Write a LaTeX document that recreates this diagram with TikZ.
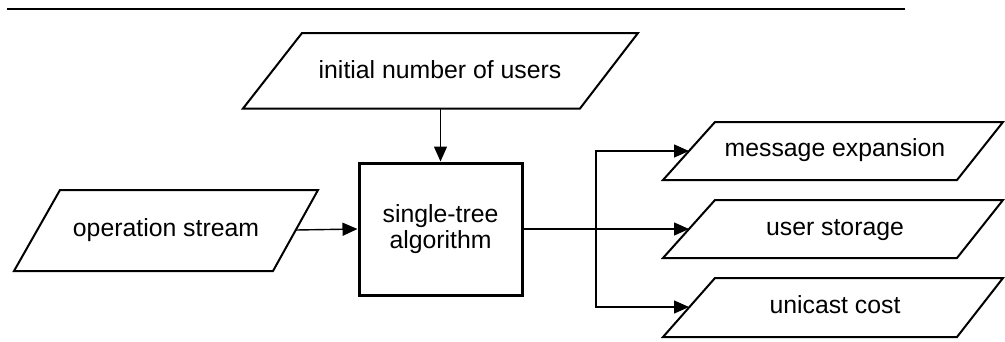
\documentclass[tikz,border=0pt]{standalone}
\usepackage{fontspec}
\setmainfont{Liberation Sans}
\usetikzlibrary{arrows.meta}
\begin{document}
\begin{tikzpicture}[x=1pt,y=-1pt,
  lbl/.style={font=\fontsize{24.8}{26.5}\selectfont, align=center, inner sep=0pt, text height=18pt, text depth=5pt},
  para/.style={draw, line width=2pt, line join=miter},
  procbox/.style={draw, line width=3pt, minimum width=163pt, minimum height=132pt, inner sep=0pt, align=center, font=\fontsize{24.8}{26.5}\selectfont},
  conn/.style={line width=1.4pt, -{Triangle[length=15pt,width=13pt]}},
  plain/.style={line width=1.4pt}
]
\useasboundingbox (0,0) rectangle (1005,341);
% top rule
\draw[line width=2.5pt] (7,9) -- (905,9);

% input: initial number of users
\draw[para] (302,33) -- (638,33) -- (580,108.5) -- (243,108.5) -- cycle;
\node[lbl] (init) at (440,71.5) {initial number of users};
\coordinate (initB) at (440.5,108.5);

% input: operation stream
\draw[para] (60,190) -- (318,190) -- (273,271) -- (14,271) -- cycle;
\node[lbl] (op) at (166,230) {operation stream};
\coordinate (opR) at (296,230);

% process
\node[procbox] (alg) at (440.5,229) {single-tree\\algorithm};

% outputs
\draw[para] (715,122) -- (1003,122) -- (957,180) -- (663,180) -- cycle;
\node[lbl] (msg) at (835,150) {message expansion};
\coordinate (msgL) at (689,151);

\draw[para] (715,200) -- (1003,200) -- (957,258) -- (663,258) -- cycle;
\node[lbl] (usr) at (835,228.5) {user storage};
\coordinate (usrL) at (689,229);

\draw[para] (715,278) -- (1003,278) -- (957,337) -- (663,337) -- cycle;
\node[lbl] (uni) at (835,306.5) {unicast cost};
\coordinate (uniL) at (689,307);

% connectors
\draw[conn] (initB) -- (alg.north);
\draw[conn] (opR) -- (alg.west);
\coordinate (split) at (596,229);
\draw[conn] (alg.east) -- (usrL);
\draw[conn] (split) |- (msgL);
\draw[conn] (split) |- (uniL);
\end{tikzpicture}
\end{document}
